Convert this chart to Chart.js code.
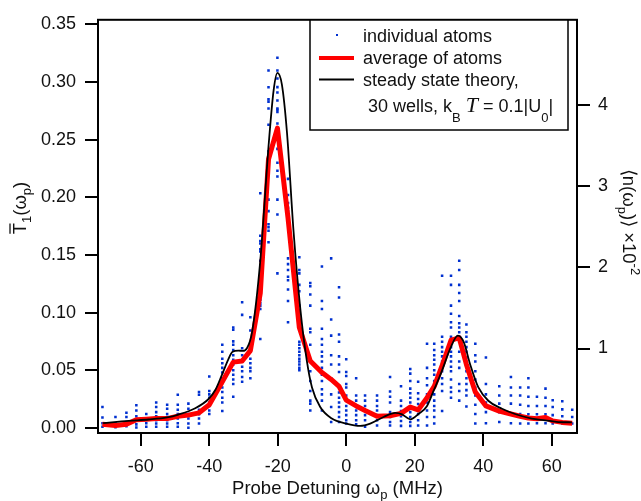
<!DOCTYPE html>
<html>
<head>
<meta charset="utf-8">
<script src="https://cdn.jsdelivr.net/npm/chart.js@4.4.0/dist/chart.umd.min.js"></script>
<style>
  html, body { margin: 0; padding: 0; background: #fff; }
  #wrap { width: 641px; height: 501px; }
</style>
</head>
<body>
<div id="wrap"><canvas id="c" width="641" height="501"></canvas></div>
<script>
// --- data ---
const xTicks = [-60, -40, -20, 0, 20, 40, 60];
const yTicks = [0, 0.05, 0.10, 0.15, 0.20, 0.25, 0.30, 0.35];
const yRightTicks = [1, 2, 3, 4];

// individual atoms: probe detuning of each column (MHz) and the values measured there
const atomX = [-71.2, -67.4, -64.2, -61.3, -58.4, -55.5, -52.3, -49.2, -46.1, -43.0, -40.0, -36.2, -33.0, -30.4, -28.0,
  -25.1, -22.7, -20.1, -17.0, -13.7, -10.5, -7.1, -4.4, -2.1, 0, 2.9, 5.5, 9.0, 12.8, 16.0, 18.7, 21.0, 23.6, 25.7,
  28.0, 30.6, 33.0, 35.1, 37.7, 40.8, 44.7, 48.1, 50.8, 53.2, 55.7, 58.2, 60.3, 63.1, 66.0];
const atomY = [
  [0.018, 0.009, 0.004, 0.001],
  [0.0094, 0.004, 0.0005],
  [0.013, 0.0094, 0.005, 0.0014],
  [0.0196, 0.015, 0.010, 0.0065, 0.003, 0.0003],
  [0.012, 0.008, 0.004, 0.001],
  [0.022, 0.018, 0.0136, 0.010, 0.0065, 0.0037, 0.001],
  [0.020, 0.0165, 0.012, 0.0094, 0.0065, 0.0037, 0.001],
  [0.0287, 0.020, 0.0156, 0.012, 0.008, 0.004, 0.001],
  [0.021, 0.0165, 0.012, 0.008, 0.0037, 0.0],
  [0.031, 0.0287, 0.0156, 0.0117, 0.008, 0.0037],
  [0.0446, 0.032, 0.029, 0.026, 0.022, 0.019, 0.015, 0.012],
  [0.072, 0.066, 0.060, 0.056, 0.052, 0.048, 0.043, 0.039, 0.035, 0.031, 0.026, 0.022, 0.0145],
  [0.087, 0.085, 0.075, 0.072, 0.0675, 0.063, 0.059, 0.055, 0.050, 0.046, 0.042, 0.038, 0.027],
  [0.109, 0.098, 0.069, 0.063, 0.0575, 0.053, 0.049, 0.044, 0.040],
  [0.096, 0.0845, 0.073, 0.066, 0.060, 0.056, 0.052, 0.049, 0.043],
  [0.2036, 0.1667, 0.162, 0.160, 0.155, 0.153, 0.145, 0.131, 0.117, 0.114, 0.111, 0.108, 0.106, 0.103, 0.077],
  [0.310, 0.2955, 0.285, 0.283, 0.277, 0.263, 0.240, 0.230, 0.198, 0.188, 0.1766, 0.174, 0.171, 0.161],
  [0.321, 0.310, 0.303, 0.2956, 0.291, 0.284, 0.277, 0.276, 0.274, 0.264, 0.256, 0.242, 0.230, 0.223, 0.218, 0.198, 0.185, 0.134],
  [0.216, 0.202, 0.195, 0.191, 0.188, 0.185, 0.147, 0.142, 0.137, 0.131, 0.128, 0.120, 0.110, 0.0916],
  [0.148, 0.137, 0.134, 0.124, 0.1185, 0.106, 0.0746, 0.072, 0.069, 0.066, 0.063, 0.060, 0.0576, 0.055, 0.052, 0.050],
  [0.1256, 0.1228, 0.1157, 0.106, 0.086, 0.083, 0.072, 0.0576, 0.049, 0.0406, 0.032, 0.0236, 0.021, 0.015],
  [0.140, 0.110, 0.103, 0.086, 0.077, 0.072, 0.066, 0.062, 0.0576, 0.052, 0.046, 0.0406, 0.0335, 0.029, 0.0236, 0.015],
  [0.147, 0.094, 0.080, 0.063, 0.055, 0.043, 0.029, 0.018, 0.005],
  [0.122, 0.113, 0.081, 0.0746, 0.062, 0.055, 0.0485, 0.0306, 0.026, 0.022, 0.018, 0.0136, 0.0094, 0.005],
  [0.0595, 0.0485, 0.045, 0.038, 0.035, 0.028, 0.0236, 0.019, 0.015, 0.011, 0.0065, 0.0037],
  [0.043, 0.028, 0.0236, 0.019, 0.015, 0.011, 0.0065, 0.003],
  [0.028, 0.0236, 0.019, 0.015, 0.011, 0.0065, 0.001],
  [0.028, 0.0236, 0.019, 0.015, 0.011, 0.0065, 0.002],
  [0.044, 0.0315, 0.027, 0.022, 0.0136, 0.0094, 0.005, 0.002],
  [0.036, 0.0236, 0.019, 0.0145, 0.010, 0.006, 0.0017],
  [0.051, 0.047, 0.0406, 0.034, 0.030, 0.026, 0.022, 0.018, 0.0136, 0.0094, 0.005, 0.0017],
  [0.040, 0.030, 0.025, 0.0207, 0.0165, 0.012, 0.0065, 0.002],
  [0.073, 0.052, 0.043, 0.037, 0.029, 0.022, 0.015, 0.0094, 0.002],
  [0.073, 0.0675, 0.063, 0.059, 0.055, 0.050, 0.046, 0.0406, 0.035, 0.029, 0.0236, 0.019, 0.015, 0.0094, 0.0037],
  [0.132, 0.079, 0.0746, 0.070, 0.066, 0.062, 0.0576, 0.053, 0.049, 0.043, 0.038, 0.032, 0.0145],
  [0.132, 0.124, 0.106, 0.099, 0.0916, 0.087, 0.079, 0.0746, 0.070, 0.066, 0.062, 0.0576, 0.053, 0.049, 0.042, 0.035, 0.031, 0.026],
  [0.145, 0.137, 0.124, 0.117, 0.110, 0.097, 0.0907, 0.087, 0.083, 0.079, 0.0746, 0.066, 0.0576, 0.052, 0.038, 0.032, 0.0236],
  [0.0896, 0.083, 0.079, 0.0746, 0.070, 0.066, 0.061, 0.0548, 0.049, 0.043, 0.038, 0.0327, 0.028, 0.0185],
  [0.073, 0.063, 0.0576, 0.049, 0.042, 0.035, 0.028, 0.020, 0.012, 0.0037],
  [0.061, 0.038, 0.029, 0.022, 0.0136, 0.004],
  [0.036, 0.028, 0.021, 0.0136, 0.005],
  [0.044, 0.035, 0.028, 0.021, 0.012, 0.004],
  [0.035, 0.028, 0.020, 0.012, 0.0037],
  [0.043, 0.035, 0.027, 0.019, 0.0117, 0.0037],
  [0.027, 0.019, 0.0117, 0.004],
  [0.034, 0.026, 0.019, 0.0117, 0.004],
  [0.024, 0.018, 0.011, 0.0037],
  [0.023, 0.016, 0.010, 0.0037],
  [0.0156, 0.0094, 0.0037]
];

// average of atoms (one value per column)
const avgY = [0.003, 0.002, 0.003, 0.007, 0.0075, 0.008, 0.008, 0.010, 0.011, 0.013, 0.020, 0.040, 0.057, 0.058, 0.067,
  0.117, 0.233, 0.260, 0.182, 0.087, 0.058, 0.048, 0.042, 0.036, 0.024, 0.019, 0.015, 0.010, 0.0105, 0.0125, 0.018,
  0.0155, 0.026, 0.036, 0.054, 0.076, 0.078, 0.055, 0.031, 0.019, 0.0145, 0.012, 0.010, 0.0085, 0.0078, 0.009,
  0.006, 0.0047, 0.004];

// steady state theory curve
const theoryX = [-71, -63.6, -57.7, -52.3, -49, -44.1, -40.2, -38.2, -36.3, -34.5, -33.2, -31.5, -30.2, -29, -27.5,
  -25.1, -22.7, -21.2, -20.1, -18.8, -17.3, -15.4, -13.4, -11.5, -10, -7.6, -4.2, 0, 4.1, 7.0, 10.9, 14.3, 16.3,
  18.7, 21.1, 23.6, 25.5, 27.9, 30.4, 32.6, 34.3, 36.2, 38.6, 41.5, 45.5, 49.3, 54.2, 58.1, 62, 65.9];
const theoryY = [0.004, 0.006, 0.0072, 0.009, 0.0115, 0.017, 0.025, 0.033, 0.046, 0.059, 0.066, 0.067, 0.0667, 0.069, 0.083,
  0.145, 0.244, 0.293, 0.308, 0.298, 0.256, 0.171, 0.103, 0.058, 0.035, 0.018, 0.008, 0.0037, 0.0017, 0.0037,
  0.0094, 0.013, 0.0117, 0.0074, 0.012, 0.019, 0.032, 0.049, 0.069, 0.080, 0.0745, 0.055, 0.035, 0.0235, 0.0165,
  0.012, 0.008, 0.0065, 0.005, 0.0048];

const FONT = '"Liberation Sans", Arial, Helvetica, sans-serif';
const TXT = '#111';
const BLUE = '#0030d0';

const atomPts = [];
atomX.forEach((x, i) => atomY[i].forEach(y => atomPts.push({ x: x, y: y })));
const avgPts = atomX.map((x, i) => ({ x: x, y: avgY[i] }));
const theoryPts = theoryX.map((x, i) => ({ x: x, y: theoryY[i] }));

// draws a run of text pieces [text, size, dy, style?, family?] starting at x (or centred on x)
function richText(ctx, parts, x, y, center) {
  let w = 0;
  parts.forEach(p => { ctx.font = (p[3] || '') + ' ' + p[1] + 'px ' + (p[4] || FONT); w += ctx.measureText(p[0]).width; });
  let cx = center ? x - w / 2 : x;
  const pos = [];
  parts.forEach(p => {
    ctx.font = (p[3] || '') + ' ' + p[1] + 'px ' + (p[4] || FONT);
    ctx.fillText(p[0], cx, y + (p[2] || 0));
    const pw = ctx.measureText(p[0]).width;
    pos.push([cx, pw]);
    cx += pw;
  });
  return pos;
}

const decorations = {
  id: 'decorations',
  afterDraw(chart) {
    const ctx = chart.ctx;
    const a = chart.chartArea;
    ctx.save();
    // frame
    ctx.strokeStyle = '#000';
    ctx.lineWidth = 2;
    ctx.strokeRect(a.left, a.top, a.right - a.left, a.bottom - a.top);

    ctx.fillStyle = TXT;
    ctx.textBaseline = 'alphabetic';
    ctx.textAlign = 'left';

    // x title
    richText(ctx, [['Probe Detuning \u03c9', 18.5], ['p', 13, 5], [' (MHz)', 18.5]], (a.left + a.right) / 2, 494, true);

    // left title
    ctx.save();
    ctx.translate(26, 208);
    ctx.rotate(-Math.PI / 2);
    const lp = richText(ctx, [['T', 18.5], ['1', 13, 5], ['(\u03c9', 18.5], ['p', 13, 5], [')', 18.5]], 0, 0, true);
    ctx.lineWidth = 1.3;
    ctx.strokeStyle = TXT;
    ctx.beginPath();
    ctx.moveTo(lp[0][0] + 0.5, -16);
    ctx.lineTo(lp[0][0] + lp[0][1] - 0.5, -16);
    ctx.stroke();
    ctx.restore();

    // right title
    ctx.save();
    ctx.translate(623, 222);
    ctx.rotate(Math.PI / 2);
    richText(ctx, [['\u27e8n(\u03c9', 18.5], ['p', 13, 5], [')\u27e9 \u00d710', 18.5], ['-2', 13, -8]], 0, 0, true);
    ctx.restore();

    // legend
    ctx.fillStyle = '#fff';
    ctx.fillRect(310, 20, 258, 110);
    ctx.strokeStyle = '#000';
    ctx.lineWidth = 1.5;
    ctx.strokeRect(310, 20, 258, 110);

    ctx.fillStyle = BLUE;
    ctx.fillRect(336, 34, 2, 2);
    ctx.strokeStyle = '#ff0000';
    ctx.lineWidth = 4;
    ctx.beginPath(); ctx.moveTo(319, 58); ctx.lineTo(354, 58); ctx.stroke();
    ctx.strokeStyle = '#000';
    ctx.lineWidth = 2;
    ctx.beginPath(); ctx.moveTo(319, 79.5); ctx.lineTo(354, 79.5); ctx.stroke();

    ctx.fillStyle = TXT;
    ctx.font = '18px ' + FONT;
    ctx.fillText('individual atoms', 363, 42);
    ctx.fillText('average of atoms', 363, 64);
    ctx.fillText('steady state theory,', 363, 86);
    richText(ctx, [
      ['30 wells, k', 18], ['B', 13, 10], [' ', 18],
      ['T', 22, 0, 'italic', '"Liberation Serif", serif'], [' = 0.1|U', 18], ['0', 13, 10], ['|', 18]
    ], 368, 112, false);
    ctx.restore();
  }
};

const tickGrid = { display: true, drawOnChartArea: false, drawTicks: true, tickLength: 13, color: '#000', lineWidth: 2 };

new Chart(document.getElementById('c'), {
  type: 'scatter',
  data: {
    datasets: [
      {
        label: 'individual atoms',
        data: atomPts,
        pointStyle: 'rect',
        pointRadius: 1.8,
        pointBorderWidth: 0,
        backgroundColor: BLUE,
        order: 3
      },
      {
        label: 'average of atoms',
        data: avgPts,
        showLine: true,
        borderColor: '#ff0000',
        borderWidth: 5,
        borderJoinStyle: 'round',
        pointRadius: 0,
        tension: 0,
        order: 2
      },
      {
        label: 'steady state theory',
        data: theoryPts,
        showLine: true,
        borderColor: '#000',
        borderWidth: 1.8,
        pointRadius: 0,
        cubicInterpolationMode: 'monotone',
        order: 1
      }
    ]
  },
  options: {
    responsive: false,
    animation: false,
    devicePixelRatio: 1,
    layout: { padding: 0 },
    plugins: { legend: { display: false }, tooltip: { enabled: false } },
    scales: {
      x: {
        type: 'linear', position: 'bottom', min: -72.5, max: 67.4,
        afterBuildTicks: s => { s.ticks = xTicks.map(v => ({ value: v })); },
        afterFit: s => { s.height = 68; },
        grid: tickGrid,
        border: { display: false },
        ticks: { color: TXT, font: { family: FONT, size: 18 }, padding: 10, maxRotation: 0, callback: v => String(v) }
      },
      xTop: {
        type: 'linear', axis: 'x', position: 'top',
        grid: { display: false }, border: { display: false }, ticks: { display: false },
        afterFit: s => { s.height = 11; }
      },
      y: {
        type: 'linear', position: 'left', min: -0.0045, max: 0.354,
        afterBuildTicks: s => { s.ticks = yTicks.map(v => ({ value: v })); },
        afterFit: s => { s.width = 98; },
        grid: tickGrid,
        border: { display: false },
        ticks: { color: TXT, font: { family: FONT, size: 18 }, padding: 9, callback: v => v.toFixed(2) }
      },
      y2: {
        type: 'linear', axis: 'y', position: 'right', min: -0.042, max: 5.054,
        afterBuildTicks: s => { s.ticks = yRightTicks.map(v => ({ value: v })); },
        afterFit: s => { s.width = 64; },
        grid: tickGrid,
        border: { display: false },
        ticks: { color: TXT, font: { family: FONT, size: 18 }, padding: 8, callback: v => String(v) }
      }
    }
  },
  plugins: [decorations]
});
</script>
</body>
</html>
